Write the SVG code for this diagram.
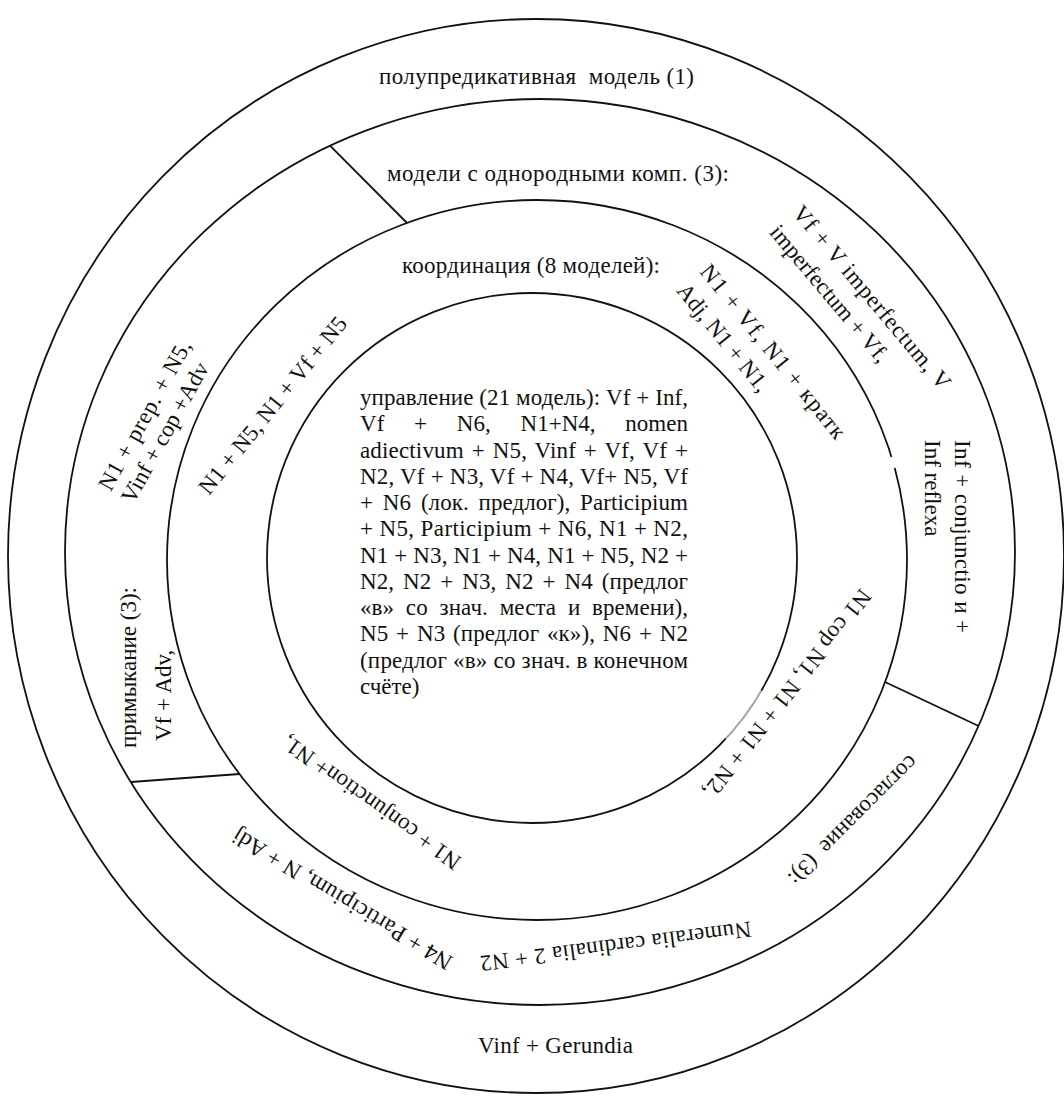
<svg xmlns="http://www.w3.org/2000/svg" width="1064" height="1097" viewBox="0 0 1064 1097">
<style>
.ring{fill:none;stroke:#111;stroke-width:1.8}
.sep{stroke:#111;stroke-width:1.8;fill:none}
text{font-family:"Liberation Serif","Times New Roman",serif;font-size:23px;fill:#111}
</style>
<rect width="1064" height="1097" fill="#fff"/>
<g id="rings">
<ellipse id="ring-outer" class="ring" cx="536" cy="556" rx="528" ry="537"/>
<ellipse id="ring-2" class="ring" cx="540" cy="552" rx="475" ry="453"/>
<ellipse id="ring-3" class="ring" cx="537" cy="560" rx="370" ry="360"/>
<circle id="ring-inner" class="ring" cx="532" cy="558" r="265"/>
<line x1="891.5" y1="457" x2="894.6" y2="468" stroke="#fff" stroke-width="4"/>
<path d="M761.5,690.5 A265,265 0 0 1 725.8,738.7" fill="none" stroke="#fff" stroke-opacity="0.6" stroke-width="3"/>
</g>
<g id="connectors">
<line class="sep" x1="330" y1="145.7" x2="407" y2="223"/>
<line class="sep" x1="131" y1="782" x2="239.5" y2="774"/>
<line class="sep" x1="885" y1="682" x2="978.6" y2="726"/>
</g>
<g id="n-polupred">
<text x="379" y="84" textLength="315" lengthAdjust="spacing" xml:space="preserve">полупредикативная  модель (1)</text>
</g>
<g id="n-odnorod">
<text x="387" y="181" textLength="342" lengthAdjust="spacing">модели с однородными комп. (3):</text>
</g>
<g id="n-koord">
<text x="402" y="273" textLength="258" lengthAdjust="spacing">координация (8 моделей):</text>
</g>
<g id="n-upravlenie">
<text x="360" y="405" textLength="328" lengthAdjust="spacing">управление (21 модель): Vf + Inf,</text>
<text x="360" y="431.3" textLength="328" lengthAdjust="spacing" style="word-spacing:24px">Vf + N6, N1+N4, nomen</text>
<text x="360" y="457.5" textLength="328" lengthAdjust="spacing" style="word-spacing:2px">adiectivum + N5, Vinf + Vf, Vf +</text>
<text x="360" y="483.8" textLength="328" lengthAdjust="spacing">N2, Vf + N3, Vf + N4, Vf+ N5, Vf</text>
<text x="360" y="510.1" textLength="328" lengthAdjust="spacing" style="word-spacing:4px">+ N6 (лок. предлог), Participium</text>
<text x="360" y="536.4" textLength="328" lengthAdjust="spacing">+ N5, Participium + N6, N1 + N2,</text>
<text x="360" y="562.6" textLength="328" lengthAdjust="spacing">N1 + N3, N1 + N4, N1 + N5, N2 +</text>
<text x="360" y="588.9" textLength="328" lengthAdjust="spacing" style="word-spacing:3px">N2, N2 + N3, N2 + N4 (предлог</text>
<text x="360" y="615.2" textLength="328" lengthAdjust="spacing" style="word-spacing:6px">«в» со знач. места и времени),</text>
<text x="360" y="641.4" textLength="328" lengthAdjust="spacing" style="word-spacing:2px">N5 + N3 (предлог «к»), N6 + N2</text>
<text x="360" y="667.7" textLength="328" lengthAdjust="spacing">(предлог «в» со знач. в конечном</text>
<text x="360" y="694">счёте)</text>
</g>
<g id="n-homog-right" transform="translate(791.6,213.5) rotate(50)">
<text x="0" y="0" textLength="232" lengthAdjust="spacing">Vf + V imperfectum, V</text>
<text x="0" y="30">imperfectum + Vf,</text>
</g>
<g id="n-koord-right" transform="translate(699,272) rotate(51)">
<text x="0" y="0" textLength="217" lengthAdjust="spacing">N1 + Vf, N1 + кратк</text>
<text x="0" y="30">Adj, N1 + N1,</text>
</g>
<g id="n-inf-conj" transform="translate(955,440) rotate(90)">
<text x="0" y="0" textLength="193" lengthAdjust="spacing">Inf + conjunctio и +</text>
<text x="0" y="30">Inf reflexa</text>
</g>
<g id="n-homog-left" transform="translate(110.7,492.2) rotate(-61)">
<text x="0" y="0" textLength="168" lengthAdjust="spacing">N1 + prep. + N5,</text>
<text x="0" y="26">Vinf + cop +Adv</text>
</g>
<g id="n-koord-left" transform="translate(209.1,495.9) rotate(-51)">
<text x="0" y="0">N1 + N5, N1 + Vf + N5</text>
</g>
<g id="n-primykanie" transform="translate(136,748) rotate(-90)">
<text x="0" y="0">примыкание (3):</text>
<text x="7" y="35">Vf + Adv,</text>
</g>
<g id="n-koord-bottom" transform="translate(462.6,858.5) rotate(215.5)">
<text x="0" y="0">N1 + conjunction+ N1,</text>
</g>
<g id="n-primyk-bottom" transform="translate(454.1,957.7) rotate(211)">
<text x="0" y="0" textLength="252" lengthAdjust="spacing">N4 + Participium, N + Adj</text>
</g>
<g id="n-numeralia" transform="translate(750.2,921.6) rotate(172.7)">
<text x="0" y="0" textLength="273" lengthAdjust="spacing">Numeralia cardinalia 2 + N2</text>
</g>
<g id="n-soglasovanie" transform="translate(909.3,753.7) rotate(135)">
<text x="0" y="0" xml:space="preserve">согласование  (3):</text>
</g>
<g id="n-koord-right-low" transform="translate(860.7,587.4) rotate(128)">
<text x="0" y="0" textLength="258" lengthAdjust="spacing">N1 cop N1, N1 + N1 + N2,</text>
</g>
<g id="n-gerundia">
<text x="478" y="1053" textLength="155" lengthAdjust="spacing">Vinf + Gerundia</text>
</g>
</svg>
